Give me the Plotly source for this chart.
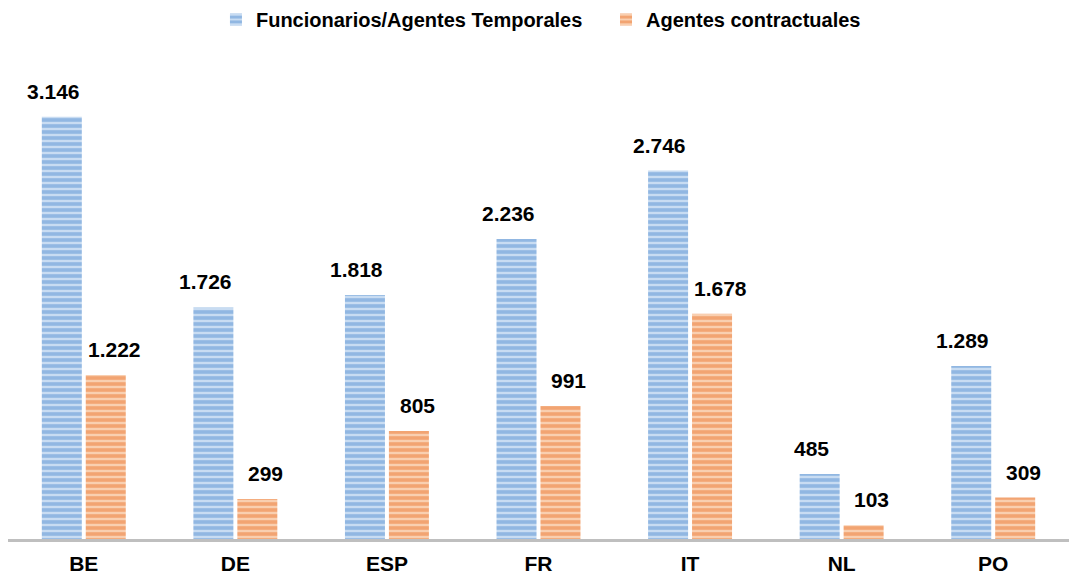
import plotly.graph_objects as go

categories = ["BE", "DE", "ESP", "FR", "IT", "NL", "PO"]
funcionarios = [3146, 1726, 1818, 2236, 2746, 485, 1289]
contractuales = [1222, 299, 805, 991, 1678, 103, 309]
series_names = ["Funcionarios/Agentes Temporales", "Agentes contractuales"]

FONT = "Liberation Sans, Arial, sans-serif"

def fmt(v):
    return f"{v:,}".replace(",", ".")

fig = go.Figure()
fig.add_trace(go.Bar(
    x=categories, y=funcionarios, name=series_names[0], legend="legend", showlegend=True,
    marker=dict(color="#C8DCF2", line=dict(width=0),
                pattern=dict(shape="-", bgcolor="#C8DCF2", fgcolor="#5A92D2", size=6, solidity=0.6)),
))
fig.add_trace(go.Bar(
    x=categories, y=contractuales, name=series_names[1], legend="legend2", showlegend=True,
    marker=dict(color="#F9CFB0", line=dict(width=0),
                pattern=dict(shape="-", bgcolor="#F9CFB0", fgcolor="#EC7A33", size=6, solidity=0.6)),
))

annotations = []
for vals, off in ((funcionarios, -0.2), (contractuales, 0.2)):
    for i, (c, v) in enumerate(zip(categories, vals)):
        annotations.append(dict(
            x=i + off, y=v, xref="x", yref="y", text=fmt(v), showarrow=False,
            yanchor="bottom", yshift=12,
            font=dict(family=FONT, size=21, color="#000000", weight="bold"),
        ))

legend_font = dict(family=FONT, size=20, color="#000000", weight="bold")

fig.update_layout(
    width=1069, height=584,
    margin=dict(l=8, r=0, t=80, b=45),
    paper_bgcolor="white", plot_bgcolor="white",
    showlegend=True,
    barmode="group", bargap=0.42, bargroupgap=0.09,
    font=dict(family=FONT, size=21, color="#000000", weight="bold"),
    legend=dict(orientation="h", x=0.196, xanchor="left", y=1.135, yanchor="middle",
                font=legend_font, itemwidth=30, visible=True),
    legend2=dict(orientation="h", x=0.5636, xanchor="left", y=1.135, yanchor="middle",
                 font=legend_font, itemwidth=30, visible=True),
    xaxis=dict(showline=True, linecolor="#BFBFBF", linewidth=3, ticks="",
               showgrid=False, zeroline=False, ticklabelstandoff=4,
               tickfont=dict(family=FONT, size=21, color="#000000", weight="bold"),
               range=[-0.5, 6.5]),
    yaxis=dict(visible=False, range=[0, 3413], showgrid=False, zeroline=False),
    annotations=annotations,
)

fig.write_html("out.html", config={"displayModeBar": False},
               post_script="document.body.style.margin='0';")
